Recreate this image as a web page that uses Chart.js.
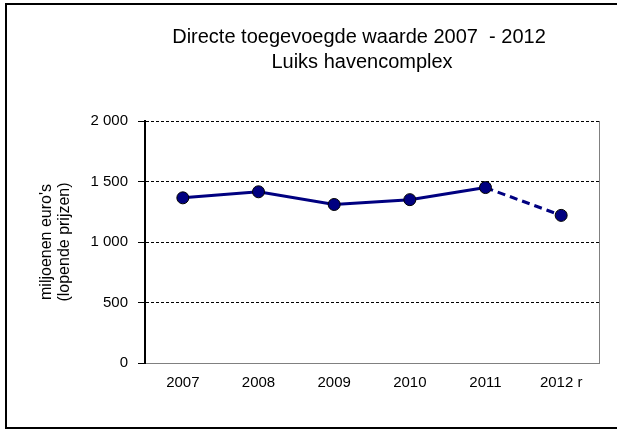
<!DOCTYPE html>
<html>
<head>
<meta charset="utf-8">
<script src="https://cdn.jsdelivr.net/npm/chart.js@4.4.1/dist/chart.umd.min.js"></script>
<style>
  html, body { margin: 0; padding: 0; background: #fff; }
  #wrap { position: relative; width: 617px; height: 430px; overflow: hidden; }
  #frame { position: absolute; left: 5px; top: 3px; width: 700px; height: 422px; border: 2px solid #000; pointer-events: none; }
  canvas { position: absolute; left: 0; top: 0; }
</style>
</head>
<body>
<div id="wrap">
  <canvas id="c" width="617" height="430"></canvas>
  <div id="frame"></div>
</div>
<script>
const titleLines = ['Directe toegevoegde waarde 2007  - 2012', 'Luiks havencomplex'];
const yAxisTitle = ["miljoenen euro's", '(lopende prijzen)'];
const categories = ['2007', '2008', '2009', '2010', '2011', '2012 r'];
const values = [1365, 1415, 1310, 1350, 1450, 1220];
const yTickValues = [0, 500, 1000, 1500, 2000];
const yTickLabels = ['0', '500', '1 000', '1 500', '2 000'];

const FONT = '"Liberation Sans", Arial, sans-serif';

const decor = {
  id: 'decor',
  afterDraw(chart) {
    const { ctx, chartArea } = chart;
    ctx.save();
    ctx.strokeStyle = '#808080';
    ctx.lineWidth = 1;
    ctx.beginPath();
    ctx.moveTo(chartArea.right + 0.5, chartArea.top);
    ctx.lineTo(chartArea.right + 0.5, chartArea.bottom);
    ctx.stroke();
    ctx.restore();
  },
  beforeDraw(chart) {
    const { ctx } = chart;
    ctx.save();
    ctx.fillStyle = '#000';
    ctx.font = '20px ' + FONT;
    ctx.textAlign = 'center';
    ctx.textBaseline = 'alphabetic';
    ctx.fillText(titleLines[0], 359, 43);
    ctx.fillText(titleLines[1], 362, 68);
    ctx.restore();
  }
};

new Chart(document.getElementById('c'), {
  type: 'line',
  data: {
    labels: categories,
    datasets: [{
      data: values,
      borderColor: '#000080',
      borderWidth: 3,
      backgroundColor: '#000080',
      pointBackgroundColor: '#000080',
      pointBorderColor: '#000000',
      pointBorderWidth: 1,
      pointRadius: 6,
      tension: 0,
      segment: {
        borderDash: ctx => ctx.p1DataIndex === values.length - 1 ? [8, 5] : undefined
      }
    }]
  },
  options: {
    responsive: false,
    devicePixelRatio: 1,
    animation: false,
    events: [],
    layout: { padding: { left: 0, top: 121, right: 18, bottom: 0 } },
    plugins: { legend: { display: false }, tooltip: { enabled: false }, title: { display: false } },
    scales: {
      x: {
        type: 'category',
        offset: true,
        grid: { display: false, drawTicks: false },
        border: { display: true, color: '#808080', width: 1 },
        ticks: { color: '#000', font: { family: FONT, size: 15 }, padding: 11, maxRotation: 0, autoSkip: false },
        afterFit: s => { s.height = 67; }
      },
      y: {
        min: 0, max: 2000,
        afterBuildTicks: s => { s.ticks = yTickValues.map(v => ({ value: v })); },
        grid: {
          color: ctx => ctx.tick && ctx.tick.value === 0 ? '#808080' : '#000',
          lineWidth: 1,
          drawTicks: true,
          tickLength: 7,
          tickColor: '#000',
          tickBorderDash: []
        },
        border: { display: true, color: '#000', width: 2, dash: [3, 2] },
        ticks: {
          color: '#000',
          font: { family: FONT, size: 15 },
          padding: 10,
          callback: v => yTickLabels[yTickValues.indexOf(v)]
        },
        title: {
          display: true,
          text: yAxisTitle,
          color: '#000',
          font: { family: FONT, size: 16, lineHeight: 1.16 },
          padding: { top: 37, bottom: 0 }
        },
        afterFit: s => { s.width = 145; }
      }
    }
  },
  plugins: [decor]
});
</script>
</body>
</html>
